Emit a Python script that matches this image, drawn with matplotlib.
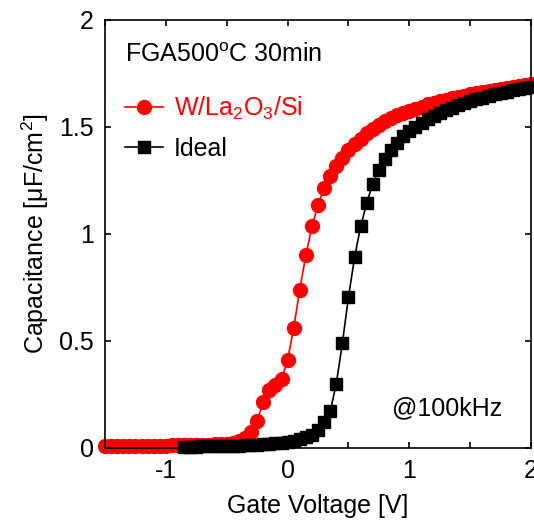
import numpy as np
import matplotlib
matplotlib.use("Agg")
import matplotlib.pyplot as plt
from matplotlib.ticker import MultipleLocator

plt.rcParams['font.family'] = ['Liberation Sans', 'DejaVu Sans']
plt.rcParams['mathtext.fontset'] = 'custom'
plt.rcParams['mathtext.rm'] = 'Liberation Sans'
plt.rcParams['mathtext.it'] = 'Liberation Sans'
plt.rcParams['mathtext.default'] = 'regular'
plt.rcParams['axes.unicode_minus'] = False

# W/La2O3/Si, gate sweep -1.50 V .. 2.00 V, 0.05 V step
v_la2o3 = np.arange(-1.50, 2.001, 0.05)
c_la2o3 = [0.010, 0.010, 0.010, 0.010, 0.010, 0.010, 0.010, 0.011, 0.011,
           0.011, 0.011, 0.012, 0.012, 0.012, 0.013, 0.013, 0.014, 0.015, 0.016,
           0.018, 0.020, 0.024, 0.030, 0.045, 0.075, 0.125, 0.215, 0.270, 0.295,
           0.320, 0.410, 0.560, 0.740, 0.900, 1.035, 1.135, 1.215, 1.270, 1.315,
           1.355, 1.390, 1.420, 1.445, 1.470, 1.490, 1.510, 1.525, 1.540, 1.555,
           1.565, 1.575, 1.585, 1.595, 1.605, 1.612, 1.620, 1.627, 1.634, 1.640,
           1.646, 1.652, 1.658, 1.663, 1.668, 1.673, 1.678, 1.683, 1.688, 1.692,
           1.696, 1.700]

# Ideal curve, -0.85 V .. 2.00 V
v_ideal = np.arange(-0.85, 2.001, 0.05)
c_ideal = [0.005, 0.006, 0.006, 0.007, 0.007, 0.008, 0.008, 0.009, 0.010,
           0.011, 0.012, 0.013, 0.015, 0.017, 0.019, 0.022, 0.025, 0.029, 0.034,
           0.041, 0.050, 0.062, 0.085, 0.120, 0.170, 0.300, 0.490, 0.705, 0.890,
           1.035, 1.145, 1.235, 1.300, 1.350, 1.390, 1.425, 1.455, 1.480, 1.500,
           1.520, 1.537, 1.552, 1.565, 1.578, 1.590, 1.600, 1.610, 1.620, 1.629,
           1.637, 1.645, 1.652, 1.659, 1.665, 1.671, 1.677, 1.683, 1.688]

fig = plt.figure(figsize=(5.34, 5.22), dpi=100)
ax = fig.add_axes([0.1966, 0.142, 0.798, 0.82])

ax.plot(v_la2o3, c_la2o3, color="#ff0000", marker="o", markersize=10, lw=1.2,
        label=r"W/La$_2$O$_3$/Si", clip_on=False)
ax.plot(v_ideal, c_ideal, color="black", marker="s", markersize=8, lw=1.2,
        label="Ideal", clip_on=False)

ax.set_xlim(-1.5, 2)
ax.set_ylim(0, 2)
ax.xaxis.set_major_locator(MultipleLocator(1))
ax.xaxis.set_minor_locator(MultipleLocator(0.5))
ax.set_yticks([0, 0.5, 1, 1.5, 2])
ax.set_yticklabels(["0", "0.5", "1", "1.5", "2"])
ax.tick_params(which="both", direction="in", top=True, right=True, labelsize=18,
               width=1.2, length=4.5)
ax.tick_params(which="major", pad=8)
for s in ax.spines.values():
    s.set_linewidth(1.2)

ax.set_xlabel("Gate Voltage [V]", fontsize=18, labelpad=8)
ax.set_ylabel(r"Capacitance [μF/cm$^2$]", fontsize=18, labelpad=6)

ax.text(0.047, 0.902, r"FGA500$^{o}$C 30min", transform=ax.transAxes,
        fontsize=18, va="baseline")
ax.text(0.674, 0.077, "@100kHz", transform=ax.transAxes, fontsize=18,
        va="baseline")

leg = ax.legend(loc="upper left", bbox_to_anchor=(0.047, 0.826), frameon=False,
                fontsize=18, borderpad=0, borderaxespad=0, handlelength=1.5,
                handletextpad=0.45, labelspacing=0.62)
leg.get_texts()[0].set_color("#ff0000")

fig.savefig("out.png", dpi=100)
